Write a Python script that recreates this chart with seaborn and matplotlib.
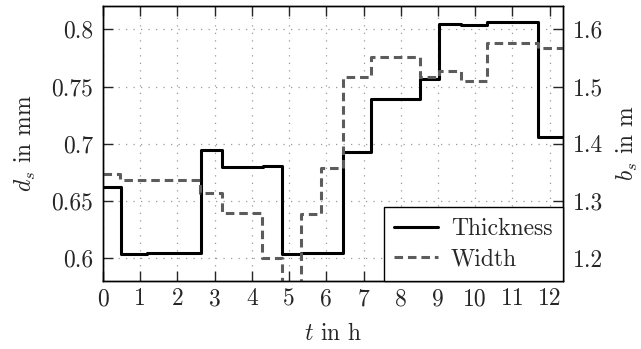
import matplotlib
matplotlib.use("Agg")
import matplotlib.pyplot as plt
import seaborn as sns
import pandas as pd

# ---- data ----
t_thick = [0, 0.48, 1.19, 2.63, 3.21, 4.31, 4.82, 5.32, 6.46, 7.20, 8.51, 9.04, 9.62, 10.32, 11.68, 12.36]
thickness = [0.662, 0.604, 0.605, 0.695, 0.680, 0.681, 0.604, 0.605, 0.693, 0.739, 0.757, 0.805, 0.804, 0.806, 0.706, 0.706]

t_width = [0, 0.46, 2.61, 3.19, 4.28, 4.82, 5.32, 5.85, 6.46, 7.20, 8.51, 9.04, 9.62, 10.32, 11.68, 12.36]
width = [1.347, 1.337, 1.314, 1.279, 1.200, 1.14, 1.277, 1.358, 1.517, 1.551, 1.516, 1.528, 1.509, 1.577, 1.567, 1.567]

x_ticks = list(range(0, 13))
left_ticks = [0.6, 0.65, 0.7, 0.75, 0.8]
left_labels = ["0.6", "0.65", "0.7", "0.75", "0.8"]
right_ticks = [1.2, 1.3, 1.4, 1.5, 1.6]
right_labels = ["1.2", "1.3", "1.4", "1.5", "1.6"]

df_t = pd.DataFrame({"t": t_thick, "d": thickness})
df_w = pd.DataFrame({"t": t_width, "b": width})

sns.set_style("ticks")
plt.rcParams["font.family"] = ["serif"]
plt.rcParams["font.serif"] = ["cmr10"]
plt.rcParams["mathtext.fontset"] = "cm"
plt.rcParams["axes.unicode_minus"] = False
plt.rcParams["axes.formatter.use_mathtext"] = True

FS = 17
fig = plt.figure(figsize=(6.41, 3.49), dpi=100)
ax = fig.add_axes([103/641, 1-281/349, 460/641, 275/349])
ax2 = ax.twinx()

sns.lineplot(data=df_t, x="t", y="d", ax=ax, drawstyle="steps-post", color="black",
             lw=2.2, label="Thickness", legend=False)
sns.lineplot(data=df_w, x="t", y="b", ax=ax2, drawstyle="steps-post", color="#5c5c5c",
             lw=2.2, linestyle=(0, (2.8, 1.6)), label="Width", legend=False)

ax.set_xlim(0, 12.36)
ax.set_ylim(0.5802, 0.8204)
ax2.set_ylim(1.1604, 1.6408)

ax.set_xticks(x_ticks)
ax.set_xticklabels([str(v) for v in x_ticks], fontsize=FS)
ax.set_yticks(left_ticks)
ax.set_yticklabels(left_labels, fontsize=FS)
ax2.set_yticks(right_ticks)
ax2.set_yticklabels(right_labels, fontsize=FS)

ax.grid(True, linestyle=(0, (1, 5)), color="#9a9a9a", lw=0.9)
ax.tick_params(axis="x", direction="in", length=7, width=1, top=True, pad=5)
ax.tick_params(axis="y", direction="in", length=7, width=1, pad=7)
ax2.tick_params(axis="y", direction="in", length=7, width=1, pad=7)
for a in (ax, ax2):
    for s in a.spines.values():
        s.set_linewidth(1.0)
        s.set_color("black")

ax.set_xlabel(r"$t$ in h", fontsize=FS, labelpad=9)
ax.set_ylabel(r"$d_s$ in mm", fontsize=FS, labelpad=10)
ax2.set_ylabel(r"$b_s$ in m", fontsize=FS, labelpad=9)

h1, l1 = ax.get_legend_handles_labels()
h2, l2 = ax2.get_legend_handles_labels()
leg = ax2.legend(h1 + h2, l1 + l2, loc="lower right", bbox_to_anchor=(1, 0),
                 borderaxespad=0, fancybox=False, framealpha=1, edgecolor="black",
                 fontsize=FS, handlelength=1.85, handletextpad=0.55, borderpad=0.45,
                 labelspacing=0.35)
leg.get_frame().set_linewidth(1.0)

fig.savefig("out.png", dpi=100)
